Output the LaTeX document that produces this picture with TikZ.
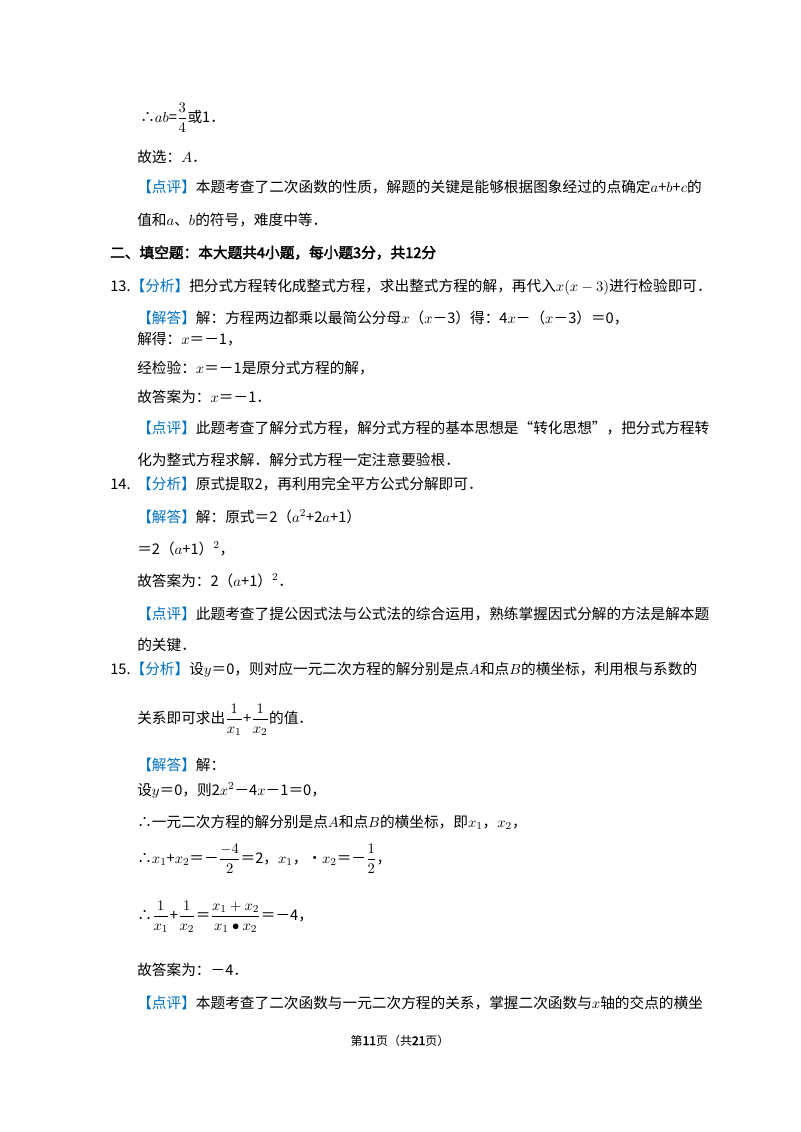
\documentclass[tikz,border=0pt]{standalone}
\usepackage{amsmath}
\usepackage{fontspec}
\setmainfont[AutoFakeBold=2.5]{Noto Sans CJK SC}
\definecolor{blu}{RGB}{0,112,192}
\newcommand{\blu}[1]{\textcolor{blu}{#1}}
\begin{document}
\begin{tikzpicture}[x=0.75pt,y=-0.75pt,
  t/.style={anchor=base west,inner sep=0pt,font=\fontsize{11}{13}\selectfont}]
\useasboundingbox (0,0) rectangle (800,1132);
\node[t] (l1) at (140,122) {∴$ab$=$\dfrac{3}{4}$或1．};
\node[t] (l2) at (137,162) {故选：$A$．};
\node[t] (l3) at (137,192) {\blu{【点评】}本题考查了二次函数的性质，解题的关键是能够根据图象经过的点确定$a$+$b$+$c$的};
\node[t] (l4) at (137,225) {值和$a$、$b$的符号，难度中等．};
\node[t,font=\fontsize{11}{13}\selectfont\bfseries] (l5) at (110,258) {二、填空题：本大题共4小题，每小题3分，共12分};
\node[t] (l6) at (110,291) {13.\blu{【分析】}把分式方程转化成整式方程，求出整式方程的解，再代入$x(x-3)$进行检验即可．};
\node[t] (l7) at (137,323) {\blu{【解答】}解：方程两边都乘以最简公分母$x$（$x$－3）得：4$x$－（$x$－3）＝0，};
\node[t] (l8) at (137,344) {解得：$x$＝－1，};
\node[t] (l9) at (137,373) {经检验：$x$＝－1是原分式方程的解，};
\node[t] (l10) at (137,402) {故答案为：$x$＝－1．};
\node[t] (l11) at (137,433) {\blu{【点评】}此题考查了解分式方程，解分式方程的基本思想是“转化思想”，把分式方程转};
\node[t] (l12) at (137,465) {化为整式方程求解．解分式方程一定注意要验根．};
\node[t] (l13) at (110,489) {14.\ \ \blu{【分析】}原式提取2，再利用完全平方公式分解即可．};
\node[t] (l14) at (137,522) {\blu{【解答】}解：原式＝2（$a^2$+2$a$+1）};
\node[t] (l15) at (137,554) {＝2（$a$+1）$^2$，};
\node[t] (l16) at (137,586) {故答案为：2（$a$+1）$^2$．};
\node[t] (l17) at (137,619) {\blu{【点评】}此题考查了提公因式法与公式法的综合运用，熟练掌握因式分解的方法是解本题};
\node[t] (l18) at (137,650) {的关键．};
\node[t] (l19) at (110,674) {15.\blu{【分析】}设$y$＝0，则对应一元二次方程的解分别是点$A$和点$B$的横坐标，利用根与系数的};
\node[t] (l20) at (137,723) {关系即可求出$\dfrac{1}{x_1}$+$\dfrac{1}{x_2}$的值．};
\node[t] (l21) at (137,770) {\blu{【解答】}解：};
\node[t] (l22) at (137,795) {设$y$＝0，则2$x^2$－4$x$－1＝0，};
\node[t] (l23) at (137,827) {∴一元二次方程的解分别是点$A$和点$B$的横坐标，即$x_1$，$x_2$，};
\node[t] (l24) at (137,863) {∴$x_1$+$x_2$＝－$\dfrac{-4}{2}$＝2，$x_1$，•$x_2$＝－$\dfrac{1}{2}$，};
\node[t] (l25) at (137,920) {∴$\dfrac{1}{x_1}$+$\dfrac{1}{x_2}$＝$\dfrac{x_1+x_2}{x_1\bullet x_2}$＝－4，};
\node[t] (l26) at (137,975) {故答案为：－4．};
\node[t] (l27) at (137,1008) {\blu{【点评】}本题考查了二次函数与一元二次方程的关系，掌握二次函数与$x$轴的交点的横坐};
\node[anchor=base,inner sep=0pt,font=\fontsize{9}{11}\selectfont] (ft) at (400,1045) {第\textbf{11}页（共\textbf{21}页）};
\end{tikzpicture}
\end{document}
